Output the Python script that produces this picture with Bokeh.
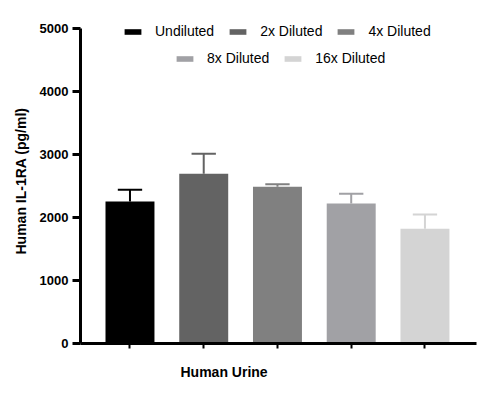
from bokeh.plotting import figure
from bokeh.models import Range1d, FixedTicker, Legend, LegendItem, Title, ColumnDataSource
from bokeh.embed import file_html
from bokeh.resources import INLINE

groups = ["Undiluted", "2x Diluted", "4x Diluted", "8x Diluted", "16x Diluted"]
means = [2255, 2695, 2490, 2222, 1820]
sd = [185, 318, 38, 155, 228]
colors = ["#000000", "#636363", "#808080", "#a1a1a5", "#d4d4d4"]
y_ticks = [0, 1000, 2000, 3000, 4000, 5000]
x_title = "Human Urine"
y_title = "Human IL-1RA (pg/ml)"

xs = list(range(1, len(groups) + 1))
upper = [m + s for m, s in zip(means, sd)]
cap = 0.165
src = ColumnDataSource(dict(
    x=xs, top=means, upper=upper, color=colors, name=groups,
    xl=[x - cap for x in xs], xr=[x + cap for x in xs],
))

FONT = "Liberation Sans"

p = figure(width=484, height=395, output_backend="svg", toolbar_location=None,
           x_range=Range1d(0.329, 5.699), y_range=Range1d(0, 5159),
           min_border_left=80, min_border_right=8, min_border_top=18,
           min_border_bottom=52)
p.outline_line_color = None
p.grid.grid_line_color = None
p.background_fill_color = "white"

bars = p.vbar(x="x", top="top", width=0.664, bottom=0, source=src,
              fill_color="color", line_color=None)
p.segment(x0="x", y0="top", x1="x", y1="upper", source=src,
          line_color="color", line_width=2)
p.segment(x0="xl", y0="upper", x1="xr", y1="upper", source=src,
          line_color="color", line_width=2)

# x axis
p.xaxis.ticker = FixedTicker(ticks=xs)
p.xaxis.major_label_overrides = {x: "" for x in xs}
p.xaxis.major_label_standoff = 0
p.xaxis.major_tick_out = 5
p.xaxis.major_tick_in = 0
p.xaxis.major_tick_line_width = 2
p.xaxis.minor_tick_line_color = None
p.xaxis.axis_line_width = 3

# y axis
p.yaxis.ticker = FixedTicker(ticks=y_ticks)
p.yaxis.bounds = (0, 5000)
p.yaxis.major_tick_out = 8
p.yaxis.major_tick_in = 0
p.yaxis.major_tick_line_width = 3
p.yaxis.minor_tick_line_color = None
p.yaxis.axis_line_width = 3
p.yaxis.major_label_text_font = FONT
p.yaxis.major_label_text_font_size = "13px"
p.yaxis.major_label_text_font_style = "bold"
p.yaxis.major_label_text_color = "black"
p.yaxis.major_label_standoff = 4
p.yaxis.axis_label = y_title
p.yaxis.axis_label_text_font = FONT
p.yaxis.axis_label_text_font_size = "14px"
p.yaxis.axis_label_text_font_style = "bold"
p.yaxis.axis_label_text_color = "black"
p.yaxis.axis_label_standoff = 8

p.add_layout(Title(text=x_title, align="left", offset=100, text_font=FONT,
                   text_font_size="14px", text_font_style="bold",
                   text_color="black", standoff=26),
             "below")

items = [LegendItem(label=g, renderers=[bars], index=i) for i, g in enumerate(groups)]

def make_legend(its, loc):
    return Legend(items=its, location=loc, orientation="horizontal",
                  border_line_color=None, background_fill_alpha=0,
                  padding=0, margin=0, spacing=13, label_standoff=12,
                  glyph_width=21, glyph_height=7, label_height=15,
                  label_text_font=FONT, label_text_font_size="14px",
                  label_text_color="black")

p.add_layout(make_legend(items[:3], (42, 304)))
p.add_layout(make_legend(items[3:], (94, 277)))

open("out.html", "w").write(file_html(p, INLINE))
